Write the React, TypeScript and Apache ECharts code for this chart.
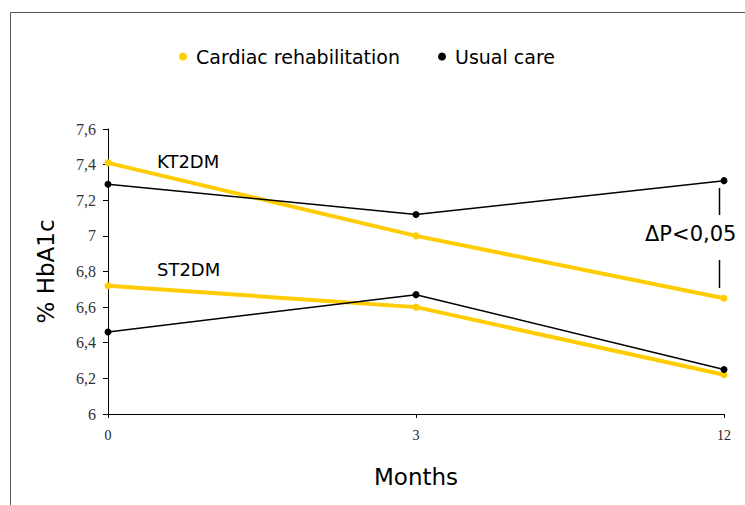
import React, { useEffect, useRef } from "react";
import * as echarts from "echarts";

const months = ["0", "3", "12"];
const yTicks = { min: 6, max: 7.6, step: 0.2 };
const crKT2DM = [7.41, 7.0, 6.65];
const ucKT2DM = [7.29, 7.12, 7.31];
const crST2DM = [6.72, 6.6, 6.22];
const ucST2DM = [6.46, 6.67, 6.25];
const seriesNames = ["Cardiac rehabilitation", "Usual care"];

const YELLOW = "#FFCC00";
const BLACK = "#000000";
const SANS = "'DejaVu Sans', Verdana, sans-serif";
const SERIF = "'Liberation Serif', 'Times New Roman', serif";

export default function App() {
  const ref = useRef<HTMLDivElement>(null);
  useEffect(() => {
    if (!ref.current) return;
    const chart = echarts.init(ref.current, null, { renderer: "svg" });
    const mk = (name: string, data: number[], color: string, width: number, size: number) => ({
      type: "line",
      name,
      data,
      symbol: "circle",
      symbolSize: size,
      itemStyle: { color },
      lineStyle: { color, width },
      z: color === BLACK ? 3 : 2,
    });
    chart.setOption({
      animation: false,
      backgroundColor: "#ffffff",
      legend: {
        data: seriesNames,
        top: 42,
        left: 174,
        icon: "circle",
        itemWidth: 16,
        itemHeight: 8,
        itemGap: 38,
        textStyle: { fontFamily: SANS, fontSize: 19, color: "#000" },
      },
      grid: { left: 108, right: 21, top: 129, bottom: 91 },
      xAxis: {
        type: "category",
        data: months,
        boundaryGap: false,
        name: "Months",
        nameLocation: "middle",
        nameGap: 51,
        nameTextStyle: { fontFamily: SANS, fontSize: 23, color: "#000" },
        axisLine: { lineStyle: { color: "#000", width: 1 } },
        axisTick: { show: true, length: 4, alignWithLabel: true, lineStyle: { color: "#000" } },
        axisLabel: { fontFamily: SERIF, fontSize: 14, color: "#222", margin: 14 },
        splitLine: { show: false },
      },
      yAxis: {
        type: "value",
        min: yTicks.min,
        max: yTicks.max,
        interval: yTicks.step,
        name: "% HbA1c",
        nameLocation: "middle",
        nameGap: 51,
        nameTextStyle: { fontFamily: SANS, fontSize: 23, color: "#000" },
        axisLine: { show: true, lineStyle: { color: "#000", width: 1 } },
        axisTick: { show: true, length: 5, lineStyle: { color: "#000" } },
        axisLabel: {
          fontFamily: SERIF,
          fontSize: 16,
          color: "#333",
          margin: 12,
          formatter: (v: number) => String(Math.round(v * 10) / 10).replace(".", ","),
        },
        splitLine: { show: false },
      },
      series: [
        mk(seriesNames[0], crKT2DM, YELLOW, 4, 7),
        mk(seriesNames[0], crST2DM, YELLOW, 4, 7),
        mk(seriesNames[1], ucKT2DM, BLACK, 1.5, 7),
        mk(seriesNames[1], ucST2DM, BLACK, 1.5, 7),
      ],
      graphic: [
        {
          type: "rect",
          shape: { x: 10.5, y: 12.5, width: 900, height: 700 },
          style: { fill: "none", stroke: "#555", lineWidth: 1 },
          silent: true,
        },
        {
          type: "text",
          x: 157,
          y: 161,
          style: { text: "KT2DM", fontFamily: SANS, fontSize: 18, fill: "#000", verticalAlign: "middle" },
        },
        {
          type: "text",
          x: 157,
          y: 269,
          style: { text: "ST2DM", fontFamily: SANS, fontSize: 18, fill: "#000", verticalAlign: "middle" },
        },
        {
          type: "text",
          x: 645,
          y: 234,
          style: { text: "ΔP<0,05", fontFamily: SANS, fontSize: 21, fill: "#000", verticalAlign: "middle" },
        },
        {
          type: "line",
          shape: { x1: 719.5, y1: 188, x2: 719.5, y2: 215 },
          style: { stroke: "#000", lineWidth: 1.5 },
        },
        {
          type: "line",
          shape: { x1: 719.5, y1: 260, x2: 719.5, y2: 288 },
          style: { stroke: "#000", lineWidth: 1.5 },
        },
      ],
    });
    return () => chart.dispose();
  }, []);
  return (
    <div
      ref={ref}
      style={{ position: "fixed", left: 0, top: 0, width: 745, height: 505 }}
    />
  );
}
